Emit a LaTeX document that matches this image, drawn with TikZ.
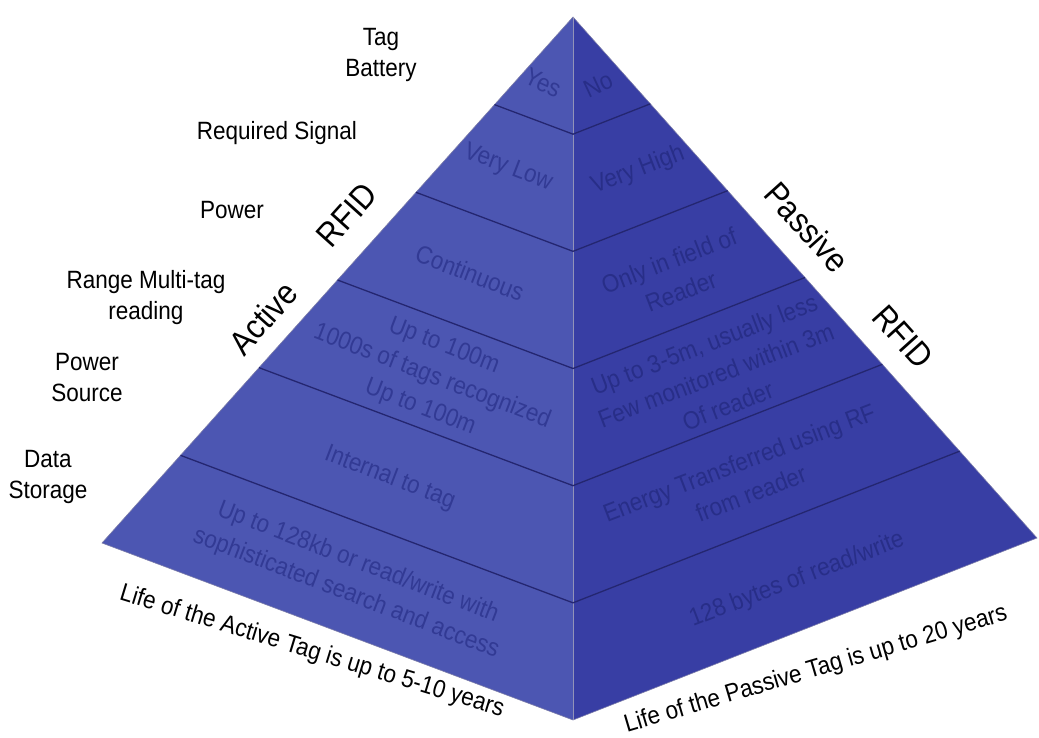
\documentclass[tikz,border=0pt]{standalone}
\usepackage{fontspec}
\setmainfont{Liberation Sans}[FakeStretch=0.9]
\usetikzlibrary{calc}

\definecolor{leftface}{RGB}{76,86,178}
\definecolor{rightface}{RGB}{56,62,164}
\definecolor{leftink}{RGB}{50,58,148}
\definecolor{rightink}{RGB}{40,46,136}
\definecolor{edgeline}{RGB}{36,38,112}

\begin{document}
\begin{tikzpicture}[
x=1pt, y=-1pt,
rowlabel/.style={align=center, font=\fontsize{25}{31}\selectfont},
sidename/.style={font=\fontsize{34}{40}\selectfont},
facetext/.style={align=center, font=\fontsize{25}{33}\selectfont},
lefttext/.style={facetext, text=leftink, rotate=-21},
righttext/.style={facetext, text=rightink, rotate=21},
divider/.style={draw=edgeline, line width=1.3pt},
lifetext/.style={font=\fontsize{25}{30}\selectfont}
]
\useasboundingbox (0,0) rectangle (1039,738);

% pyramid corners
\coordinate (apex) at (573,17);
\coordinate (leftc) at (102,543);
\coordinate (front) at (573,720);
\coordinate (rightc) at (1037,538);

\fill[leftface] (apex) -- (leftc) -- (front) -- cycle;
\fill[rightface] (apex) -- (front) -- (rightc) -- cycle;
\draw[edgeline!60, line width=0.6pt] (apex) -- (leftc) -- (front) -- (rightc) -- cycle;
\draw[edgeline!50, line width=0.8pt] (apex) -- (front);

% layer lines
\foreach \k in {1,...,5}
  \draw[divider] ($(apex)!\k/6!(leftc)$) -- ($(apex)!\k/6!(front)$) -- ($(apex)!\k/6!(rightc)$);

% row labels
\node[rowlabel] (battery) at (381,55) {Tag\\Battery};
\node[rowlabel] (signal) at (277,133) {Required Signal};
\node[rowlabel] (power) at (232,210) {Power};
\node[rowlabel] (range) at (146,298) {Range Multi-tag\\reading};
\node[rowlabel] (source) at (87,378) {Power\\Source};
\node[rowlabel] (storage) at (48,477) {Data\\Storage};

% face names
\node[sidename, rotate=48] (active) at (263,318) {Active};
\node[sidename, rotate=48] (rfidl) at (347,215) {RFID};
\node[sidename, rotate=-48] (passive) at (807,227) {Passive};
\node[sidename, rotate=-48] (rfidr) at (903,337) {RFID};

% active face
\node[lefttext, rotate=-4] (yes) at (543,83) {Yes};
\node[lefttext] (verylow) at (508,168) {Very Low};
\node[lefttext] (continuous) at (470,273) {Continuous};
\node[lefttext] (arange) at (432,377) {Up to 100m\\1000s of tags recognized\\Up to 100m};
\node[lefttext] (internal) at (390,478) {Internal to tag};
\node[lefttext] (astore) at (352,578) {Up to 128kb or read/write with\\sophisticated search and access};

% passive face
\node[righttext, rotate=4] (no) at (598,85) {No};
\node[righttext] (veryhigh) at (638,170) {Very High};
\node[righttext] (field) at (675,276) {Only in field of\\Reader};
\node[righttext] (prange) at (716,375) {Up to 3-5m, usually less\\Few monitored within 3m\\Of reader};
\node[righttext] (energy) at (745,478) {Energy Transferred using RF\\from reader};
\node[righttext] (pstore) at (797,580) {128 bytes of read/write};

% tag life
\node[lifetext, rotate=-17] (alife) at (312,652) {Life of the Active Tag is up to 5-10 years};
\node[lifetext, rotate=16.5] (plife) at (816,670) {Life of the Passive Tag is up to 20 years};

\end{tikzpicture}
\end{document}
